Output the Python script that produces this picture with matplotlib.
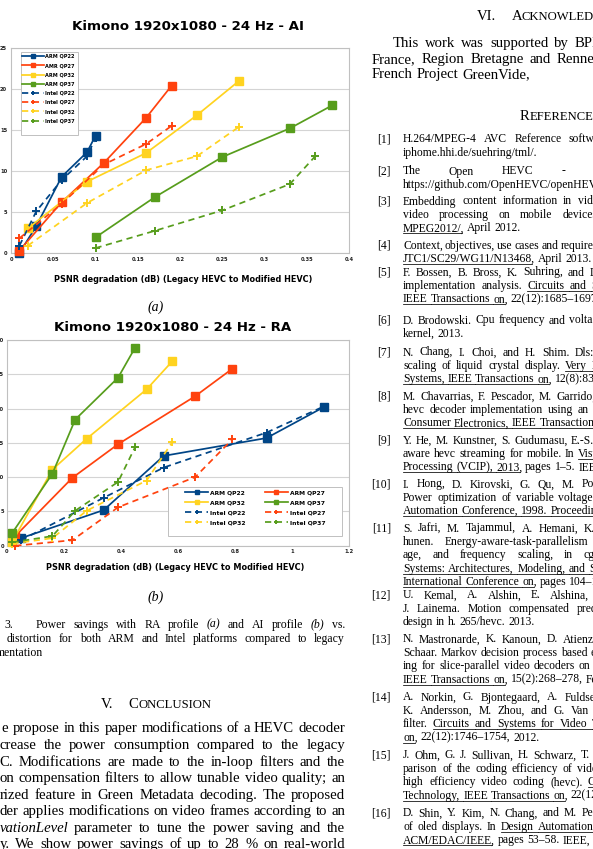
import matplotlib
matplotlib.use("Agg")
import matplotlib.pyplot as plt
from matplotlib.lines import Line2D
from matplotlib.patches import Rectangle

# ---- AI profile: power saving (%) vs PSNR degradation (dB) ----
ai_arm22_x = [0.01, 0.03, 0.06, 0.09, 0.10]
ai_arm22_y = [0.0, 3.3, 9.3, 12.3, 14.3]
ai_arm27_x = [0.01, 0.06, 0.11, 0.16, 0.19]
ai_arm27_y = [0.3, 6.2, 11.0, 16.5, 20.4]
ai_arm32_x = [0.02, 0.09, 0.16, 0.22, 0.27]
ai_arm32_y = [3.0, 8.7, 12.2, 16.8, 21.0]
ai_arm37_x = [0.10, 0.17, 0.25, 0.33, 0.38]
ai_arm37_y = [1.9, 6.8, 11.7, 15.2, 18.0]
ai_intel22_x = [0.01, 0.03, 0.06, 0.09, 0.10]
ai_intel22_y = [0.9, 5.1, 8.9, 11.8, 14.0]
ai_intel27_x = [0.01, 0.06, 0.11, 0.16, 0.19]
ai_intel27_y = [1.8, 6.0, 10.8, 13.3, 15.5]
ai_intel32_x = [0.02, 0.09, 0.16, 0.22, 0.27]
ai_intel32_y = [0.9, 6.1, 10.1, 11.8, 15.4]
ai_intel37_x = [0.10, 0.17, 0.25, 0.33, 0.36]
ai_intel37_y = [0.6, 2.7, 5.2, 8.4, 11.8]

# ---- RA profile ----
ra_arm22_x = [0.05, 0.34, 0.55, 0.91, 1.11]
ra_arm22_y = [1.1, 5.2, 13.1, 15.7, 20.2]
ra_arm27_x = [0.03, 0.23, 0.39, 0.66, 0.79]
ra_arm27_y = [1.4, 9.9, 14.8, 21.8, 25.8]
ra_arm32_x = [0.02, 0.16, 0.28, 0.49, 0.58]
ra_arm32_y = [0.6, 11.1, 15.6, 22.8, 26.9]
ra_arm37_x = [0.02, 0.16, 0.24, 0.39, 0.45]
ra_arm37_y = [1.9, 10.5, 18.4, 24.5, 28.9]
ra_intel22_x = [0.05, 0.34, 0.55, 0.91, 1.11]
ra_intel22_y = [0.8, 7.0, 11.4, 16.5, 20.3]
ra_intel27_x = [0.03, 0.23, 0.39, 0.66, 0.79]
ra_intel27_y = [0.0, 0.8, 5.6, 10.0, 15.5]
ra_intel32_x = [0.02, 0.16, 0.28, 0.49, 0.58]
ra_intel32_y = [0.3, 1.1, 5.1, 9.5, 15.1]
ra_intel37_x = [0.02, 0.16, 0.24, 0.39, 0.45]
ra_intel37_y = [0.5, 1.4, 5.1, 9.3, 14.4]

qps = ["22", "27", "32", "37"]
ai_arm_labels = ["ARM QP22", "AMR QP27", "ARM QP32", "ARM QP37"]
ra_arm_labels = ["ARM QP22", "ARM QP27", "ARM QP32", "ARM QP37"]
intel_labels = ["Intel QP22", "Intel QP27", "Intel QP32", "Intel QP37"]

ai_xticks = [0, 0.05, 0.1, 0.15, 0.2, 0.25, 0.3, 0.35, 0.4]
ai_xticklabels = ["0", "0.05", "0.1", "0.15", "0.2", "0.25", "0.3", "0.35", "0.4"]
ai_yticks = [0, 5, 10, 15, 20, 25]
ra_xticks = [0, 0.2, 0.4, 0.6, 0.8, 1.0, 1.2]
ra_xticklabels = ["0", "0.2", "0.4", "0.6", "0.8", "1", "1.2"]
ra_yticks = [0, 5, 10, 15, 20, 25, 30]

ai_title = "Kimono 1920x1080 - 24 Hz - AI"
ra_title = "Kimono 1920x1080 - 24 Hz - RA"
xlabel = "PSNR degradation (dB) (Legacy HEVC to Modified HEVC)"

COLORS = {"22": "#004586", "27": "#ff420e", "32": "#ffd320", "37": "#579d1c"}
SERIF = "Liberation Serif"
SANS = "DejaVu Sans"
W, H = 593, 849

fig = plt.figure(figsize=(W / 100, H / 100), dpi=100)
renderer = fig.canvas.get_renderer()


def fx(x):
    return x / W


def fy(y):
    return 1 - y / H


def text_width(s, size, **kw):
    t = fig.text(0, 0, s, fontsize=size, **kw)
    w = t.get_window_extent(renderer).width
    t.remove()
    return w


def justify(line, x0, x1, y, size, last=False):
    """Draw one line of serif text, spread from x0 to x1 (pixels)."""
    words = []
    for w in line.split():
        ul = it = False
        while w[0] in "~*":
            if w[0] == "~":
                ul = True
            else:
                it = True
            w = w[1:]
        words.append((w, ul, "italic" if it else "normal"))
    widths = [text_width(w, size, family=SERIF, style=st) for w, _, st in words]
    space = text_width("a a", size, family=SERIF) - text_width("aa", size, family=SERIF)
    if last or len(words) == 1:
        gap = space
    else:
        gap = max((x1 - x0 - sum(widths)) / (len(words) - 1), 0.6 * space)
    base = y + 0.3 * size * 100 / 72
    x = x0
    for i, ((w, ul, st), wd) in enumerate(zip(words, widths)):
        fig.text(fx(x), fy(base), w, fontsize=size, family=SERIF, style=st,
                 ha="left", va="baseline")
        if ul:
            nxt = i + 1 < len(words) and words[i + 1][1]
            if nxt:
                end = x + wd + gap
            elif w[-1] in ",.":
                end = x + text_width(w[:-1], size, family=SERIF)
            else:
                end = x + wd
            fig.add_artist(Line2D([fx(x), fx(end)], [fy(base + 1.8)] * 2,
                                  transform=fig.transFigure, color="black", lw=0.55))
        x += wd + gap


def small_caps(parts, xc, y, size):
    """parts: (text, scale, gap_after_px); drawn centred on xc."""
    widths = [text_width(t, size * s, family=SERIF) for t, s, _ in parts]
    total = sum(widths) + sum(g for _, _, g in parts)
    x = xc - total / 2
    base = y + 0.35 * size * 100 / 72
    for (t, s, g), wd in zip(parts, widths):
        fig.text(fx(x), fy(base), t, fontsize=size * s, family=SERIF,
                 ha="left", va="baseline")
        x += wd + g


def draw_chart(ax, arm, intel, arm_labels, xticks, xticklabels, yticks, ypad, xpad):
    handles = []
    for (x, y), qp, lab in zip(arm, qps, arm_labels):
        h, = ax.plot(x, y, color=COLORS[qp], lw=1.25, marker="s", ms=5.4,
                     label=lab, clip_on=False, zorder=3)
        handles.append(h)
    for (x, y), qp, lab in zip(intel, qps, intel_labels):
        h, = ax.plot(x, y, color=COLORS[qp], lw=1.25, ls=(0, (3.6, 2.6)),
                     marker="+", ms=5.5, mew=1.4, label=lab, clip_on=False, zorder=3)
        handles.append(h)
    ax.set_xlim(xticks[0], xticks[-1])
    ax.set_ylim(yticks[0], yticks[-1])
    ax.set_xticks(xticks)
    ax.set_xticklabels(xticklabels, fontweight="bold")
    ax.set_yticks(yticks)
    ax.set_yticklabels([str(v) for v in yticks], fontweight="bold")
    ax.tick_params(axis="both", length=0, labelsize=3.7, colors="#222222")
    ax.tick_params(axis="y", pad=ypad)
    ax.tick_params(axis="x", pad=xpad)
    for sp in ax.spines.values():
        sp.set_color("#c0c0c0")
        sp.set_linewidth(0.8)
    ax.grid(axis="y", color="#d4d4d4", lw=0.8)
    ax.set_axisbelow(True)
    return handles


# ---- chart (a): AI ----
ax1 = fig.add_axes([fx(11), fy(253), (349 - 11) / W, (253 - 48) / H])
h1 = draw_chart(ax1,
                [(ai_arm22_x, ai_arm22_y), (ai_arm27_x, ai_arm27_y),
                 (ai_arm32_x, ai_arm32_y), (ai_arm37_x, ai_arm37_y)],
                [(ai_intel22_x, ai_intel22_y), (ai_intel27_x, ai_intel27_y),
                 (ai_intel32_x, ai_intel32_y), (ai_intel37_x, ai_intel37_y)],
                ai_arm_labels, ai_xticks, ai_xticklabels, ai_yticks, 2.8, 3.2)
fig.add_artist(Rectangle((fx(21), fy(135)), 57 / W, 83 / H, transform=fig.transFigure,
                         facecolor="white", edgecolor="#c0c0c0", lw=0.7, zorder=4))
leg1 = fig.legend(handles=h1, loc="upper left", bbox_to_anchor=(fx(22), fy(54)),
                  bbox_transform=fig.transFigure, frameon=False, markerscale=0.55,
                  prop={"family": SANS, "weight": "bold", "size": 3.6},
                  labelspacing=0.84, handlelength=4.4, handletextpad=0.2,
                  borderpad=0.0, borderaxespad=0.0)
leg1.set_zorder(5)
fig.text(fx(187.5), fy(27), ai_title, fontsize=9.6, fontweight="bold", family=SANS,
         ha="center", va="center")
fig.text(fx(183), fy(279), xlabel, fontsize=5.9, fontweight="bold", family=SANS,
         ha="center", va="center")

# ---- chart (b): RA ----
ax2 = fig.add_axes([fx(6.7), fy(545.7), (349.3 - 6.7) / W, (545.7 - 340) / H])
h2 = draw_chart(ax2,
                [(ra_arm22_x, ra_arm22_y), (ra_arm27_x, ra_arm27_y),
                 (ra_arm32_x, ra_arm32_y), (ra_arm37_x, ra_arm37_y)],
                [(ra_intel22_x, ra_intel22_y), (ra_intel27_x, ra_intel27_y),
                 (ra_intel32_x, ra_intel32_y), (ra_intel37_x, ra_intel37_y)],
                ra_arm_labels, ra_xticks, ra_xticklabels, ra_yticks, 2.0, 2.6)
fig.add_artist(Rectangle((fx(168), fy(536)), 174 / W, 49 / H, transform=fig.transFigure,
                         facecolor="white", edgecolor="#c0c0c0", lw=0.7, zorder=4))
# row-wise order for two columns
order = [0, 2, 4, 6, 1, 3, 5, 7]
leg2 = fig.legend(handles=[h2[i] for i in order], loc="upper left", ncol=2,
                  bbox_to_anchor=(fx(185), fy(490)), bbox_transform=fig.transFigure,
                  frameon=False, markerscale=0.6,
                  prop={"family": SANS, "weight": "bold", "size": 4.3},
                  labelspacing=0.8, handlelength=3.9, handletextpad=0.3,
                  columnspacing=3.2, borderpad=0.0, borderaxespad=0.0)
leg2.set_zorder(5)
fig.text(fx(172.5), fy(327), ra_title, fontsize=9.6, fontweight="bold", family=SANS,
         ha="center", va="center")
fig.text(fx(175), fy(568), xlabel, fontsize=5.9, fontweight="bold", family=SANS,
         ha="center", va="center")

fig.text(fx(156), fy(307), "(a)", fontsize=10, family=SERIF, style="italic",
         ha="center", va="center")
fig.text(fx(156), fy(597), "(b)", fontsize=10, family=SERIF, style="italic",
         ha="center", va="center")

# ---- figure caption ----
CAP = 8.5
fig.text(fx(4), fy(624 + 0.3 * CAP * 100 / 72), "3.", fontsize=CAP, family=SERIF,
         ha="left", va="baseline")
justify("Power savings with RA profile *(a) and AI profile *(b) vs.", 36, 345, 624, CAP)
justify("distortion for both ARM and Intel platforms compared to legacy", 7, 345, 638, CAP)
justify("mentation", -4, 345, 652, CAP, last=True)

# ---- conclusion ----
BODY = 10.6
small_caps([("V.", 1.0, 15), ("C", 1.0, 0), ("ONCLUSION", 0.86, 0)], 156.5, 703, BODY)
body_lines = [
    "e propose in this paper modifications of a HEVC decoder",
    "crease the power consumption compared to the legacy",
    "C. Modifications are made to the in-loop filters and the",
    "on compensation filters to allow tunable video quality; an",
    "rized feature in Green Metadata decoding. The proposed",
    "der applies modifications on video frames according to an",
    "*vationLevel parameter to tune the power saving and the",
    "y. We show power savings of up to 28 % on real-world",
]
body_y = [728, 745, 762, 778, 795, 811, 828, 844]
body_x0 = [1.7, -0.5, -0.5, -0.5, -0.5, -0.5, -0.5, -0.5]
for line, y, x0 in zip(body_lines, body_y, body_x0):
    justify(line, x0, 345, y, BODY)

# ---- acknowledgment (right column) ----
RL, RR = 372, 744
small_caps([("VI.", 1.0, 15), ("A", 1.0, 0), ("CKNOWLEDGMENT", 0.86, 0)], 558, 15, BODY)
justify("This work was supported by BPI (Banque Publique) and", 393, RR, 43, BODY)
justify("France, Region Bretagne and Rennes Metropole through the", RL, RR, 59, BODY)
justify("French Project GreenVide,", RL, RR, 74, BODY, last=True)

small_caps([("R", 1.0, 0), ("EFERENCES", 0.86, 0)], 560, 115, BODY)

REF = 8.4
refs = [
    ("[1]", 139, ["H.264/MPEG-4 AVC Reference software (JM). Available at http://",
                  "iphome.hhi.de/suehring/tml/."]),
    ("[2]", 171, ["The Open HEVC - Open HEVC decoder.",
                  "https://github.com/OpenHEVC/openHEVC."]),
    ("[3]", 201, ["Embedding content information in video streams for energy-efficient",
                  "video processing on mobile devices. http://mpeg.chiariglione.org/",
                  "~MPEG2012/, April 2012."]),
    ("[4]", 245, ["Context, objectives, use cases and requirements for green MPEG. ISO/IEC",
                  "~JTC1/SC29/WG11/N13468, April 2013."]),
    ("[5]", 272, ["F. Bossen, B. Bross, K. Suhring, and D. Flynn. Hevc complexity and",
                  "implementation analysis. ~Circuits ~and ~Systems ~for ~Video ~Technology,",
                  "~IEEE ~Transactions ~on, 22(12):1685–1697, Dec 2012."]),
    ("[6]", 320, ["D. Brodowski. Cpu frequency and voltage scaling code in the linux(tm)",
                  "kernel, 2013."]),
    ("[7]", 352, ["N. Chang, I. Choi, and H. Shim.  Dls: dynamic backlight luminance",
                  "scaling of liquid crystal display. ~Very ~Large ~Scale ~Integration ~(VLSI)",
                  "~Systems, ~IEEE ~Transactions ~on, 12(8):837–846, Aug 2004."]),
    ("[8]", 396, ["M. Chavarrias, F. Pescador, M. Garrido, E. Juarez, and C. Sanz. A dsp",
                  "hevc decoder implementation using an actor language dataflow model.",
                  "~Consumer ~Electronics, ~IEEE ~Transactions ~on, 59(4):839–847, 2013."]),
    ("[9]", 440, ["Y. He, M. Kunstner, S. Gudumasu, E.-S. Ryu, Y. Ye, and X. Xiu. Power",
                  "aware hevc streaming for mobile. In ~Visual ~Communications ~and ~Image",
                  "~Processing ~(VCIP), ~2013, pages 1–5. IEEE, 2013."]),
    ("[10]", 484, ["I. Hong, D. Kirovski, G. Qu, M. Potkonjak, and M.B. Srivastava.",
                   "Power optimization of variable voltage core-based systems. In ~Design",
                   "~Automation ~Conference, ~1998. ~Proceedings, pages 176–181, Jun 1998."]),
    ("[11]", 528, ["S. Jafri, M. Tajammul, A. Hemani, K. Paul, J. Plosila, and H. Ten-",
                   "hunen. Energy-aware-task-parallelism for efficient dynamic volt-",
                   "age, and frequency scaling, in cgra. In ~Embedded ~Computer",
                   "~Systems: ~Architectures, ~Modeling, ~and ~Simulation ~(SAMOS ~XIII), ~2013",
                   "~International ~Conference ~on, pages 104–112, July 2013."]),
    ("[12]", 595, ["U. Kemal, A. Alshin, E. Alshina, F. Bossen, W.-J. Han, and",
                   "J. Lainema. Motion compensated prediction and interpolation filter",
                   "design in h. 265/hevc. 2013."]),
    ("[13]", 639, ["N. Mastronarde, K. Kanoun, D. Atienza, P. Frossard, and M. van der",
                   "Schaar. Markov decision process based energy-efficient on-line schedul-",
                   "ing for slice-parallel video decoders on multicore systems. ~Multimedia,",
                   "~IEEE ~Transactions ~on, 15(2):268–278, Feb 2013."]),
    ("[14]", 697, ["A. Norkin, G. Bjontegaard, A. Fuldseth, M. Narroschke, M. Ikeda,",
                   "K. Andersson, M. Zhou, and G. Van der Auwera. Hevc deblocking",
                   "filter. ~Circuits ~and ~Systems ~for ~Video ~Technology, ~IEEE ~Transactions",
                   "~on, 22(12):1746–1754, 2012."]),
    ("[15]", 755, ["J. Ohm, G. J. Sullivan, H. Schwarz, T. K. Tan, and T. Wiegand. Com-",
                   "parison of the coding efficiency of video coding standards—including",
                   "high efficiency video coding (hevc). ~Circuits ~and ~Systems ~for ~Video",
                   "~Technology, ~IEEE ~Transactions ~on, 22(12):1669–1684, Dec 2012."]),
    ("[16]", 813, ["D. Shin, Y. Kim, N. Chang, and M. Pedram. Dynamic voltage scaling",
                   "of oled displays. In ~Design ~Automation ~Conference ~(DAC), ~2011 ~48th",
                   "~ACM/EDAC/IEEE, pages 53–58. IEEE, 2011."]),
]
for label, y0, lines in refs:
    fig.text(fx(391), fy(y0 + 0.3 * REF * 100 / 72), label, fontsize=REF, family=SERIF,
             ha="right", va="baseline")
    for i, line in enumerate(lines):
        justify(line, 403, RR, y0 + i * 13.4, REF, last=(i == len(lines) - 1))

fig.savefig("out.png", dpi=100)
